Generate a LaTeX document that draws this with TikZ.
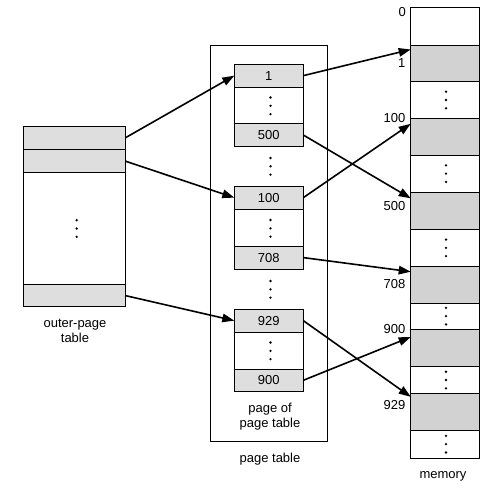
\documentclass[tikz,border=0pt]{standalone}
\usepackage{fontspec}
\setmainfont{Liberation Sans}
\usetikzlibrary{arrows.meta,calc}
\definecolor{rowgray}{RGB}{222,222,222}
\definecolor{memgray}{RGB}{210,210,210}
\newcommand{\threedots}[2]{%
  \fill (#1,#2-8.3) circle (1.3pt);
  \fill (#1,#2) circle (1.3pt);
  \fill (#1,#2+8.3) circle (1.3pt);}
\begin{document}
\begin{tikzpicture}[x=1pt,y=-1pt,
  box/.style={draw, line width=0.9pt, rectangle, inner sep=0pt, outer sep=0pt},
  trow/.style={box, fill=rowgray, minimum height=22.7pt},
  orow/.style={box, fill=rowgray, minimum width=102pt},
  brow/.style={trow, minimum width=69pt},
  mrow/.style={box, fill=memgray, minimum width=68.6pt},
  lbl/.style={font=\fontsize{13}{15.5}\selectfont, inner sep=0pt, align=center},
  arr/.style={line width=1.6pt, -{Triangle[length=12pt,width=8.5pt]}, shorten <=0.4pt}]
\useasboundingbox (0,0) rectangle (488,490);

% outer-page table
\node[box, minimum width=102pt, minimum height=180pt] (ot) at (74,216.7) {};
\node[orow, minimum height=22.6pt] (otr1) at (74,138) {};
\node[orow, minimum height=23.4pt] (otr2) at (74,161) {};
\node[orow, minimum height=22.4pt] (otr3) at (74,295.5) {};
\threedots{76.7}{228.5}
\node[lbl] (otl) at (75,331) {outer-page\\table};

% page table
\node[box, minimum width=116.6pt, minimum height=396pt] (pt) at (269,243) {};
\node[box, minimum width=69pt, minimum height=82pt] (b1) at (268.8,105.3) {};
\node[box, minimum width=69pt, minimum height=82pt] (b2) at (268.8,227.3) {};
\node[box, minimum width=69pt, minimum height=82pt] (b3) at (268.8,350.3) {};
\node[brow, lbl] (r1) at (268.8,75.65) {1};
\node[brow, lbl] (r500) at (268.8,135) {500};
\node[brow, lbl] (r100) at (268.8,197.65) {100};
\node[brow, lbl] (r708) at (268.8,257.6) {708};
\node[brow, lbl] (r929) at (268.8,320.65) {929};
\node[brow, lbl] (r900) at (268.8,380.3) {900};
\threedots{270.5}{105.8}
\threedots{270.5}{166.3}
\threedots{270.5}{228.3}
\threedots{270.5}{289.3}
\threedots{270.5}{350.8}
\node[lbl] (pofl) at (270,416.8) {page of\\page table};
\node[lbl] (ptl) at (270,459) {page table};

% memory
\node[box, minimum width=68.6pt, minimum height=451pt] (mem) at (445,232.8) {};
\node[mrow, minimum height=36.7pt] (m1) at (445,63.35) {};
\node[mrow, minimum height=36.7pt] (m100) at (445,136.65) {};
\node[mrow, minimum height=36.7pt] (m500) at (445,210.65) {};
\node[mrow, minimum height=36.6pt] (m708) at (445,285) {};
\node[mrow, minimum height=37.7pt] (m900) at (445,347.85) {};
\node[mrow, minimum height=36.7pt] (m929) at (445,411.65) {};
\threedots{446}{100}
\threedots{446}{173.65}
\threedots{446}{247.85}
\threedots{446}{316.15}
\threedots{446}{380}
\threedots{446}{444.15}
\node[lbl, anchor=east] (l0) at (406,12.3) {0};
\node[lbl, anchor=east] (l1) at (405.5,63.3) {1};
\node[lbl, anchor=east] (l100) at (405.5,118.3) {100};
\node[lbl, anchor=east] (l500) at (405.5,206) {500};
\node[lbl, anchor=east] (l708) at (405.5,284) {708};
\node[lbl, anchor=east] (l900) at (405.5,329.3) {900};
\node[lbl, anchor=east] (l929) at (405.5,405.5) {929};
\node[lbl] (meml) at (443,476.7) {memory};

% connectors
\draw[arr] (otr1.east) -- (r1.west);
\draw[arr] (otr2.east) -- (r100.west);
\draw[arr] (otr3.east) -- (r929.west);
\draw[arr] (r1.east) -- ($(m1.north west)+(0,4.5)$);
\draw[arr] (r500.east) -- ($(m500.north west)+(0,6)$);
\draw[arr] (r100.east) -- ($(m100.north west)+(0,5.5)$);
\draw[arr] (r708.east) -- ($(m708.north west)+(0,5)$);
\draw[arr] (r929.east) -- ($(m929.north west)+(0,3.5)$);
\draw[arr] (r900.east) -- ($(m900.north west)+(0,8)$);
\end{tikzpicture}
\end{document}
